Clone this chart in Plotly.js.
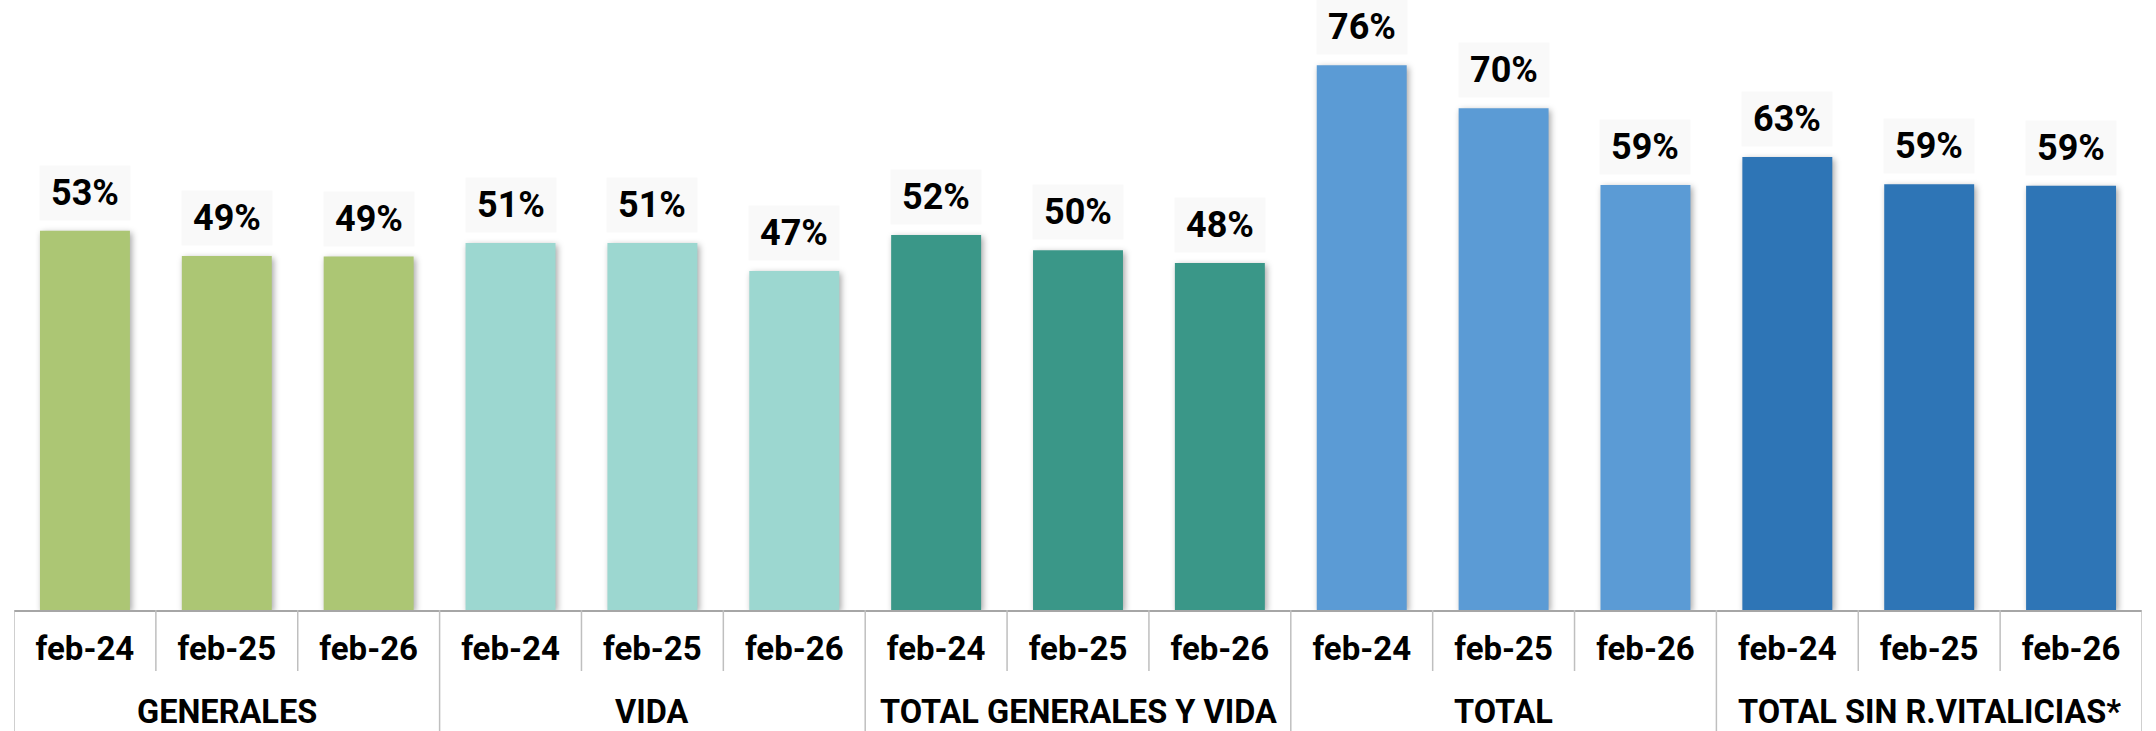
<!DOCTYPE html>
<html>
<head>
<meta charset="utf-8">
<script src="https://cdn.plot.ly/plotly-3.0.1.min.js"></script>
<style>
  body { margin: 0; background: #fff; }
  #chart { width: 2156px; height: 731px; }
  /* soft shadow under the bars */
  .barlayer .point path { filter: drop-shadow(2px 2px 3px rgba(0,0,0,0.35)); }
</style>
</head>
<body>
<div id="chart"></div>
<script>
// groups and periods
const groups = ['GENERALES', 'VIDA', 'TOTAL GENERALES Y VIDA', 'TOTAL', 'TOTAL SIN R.VITALICIAS*'];
const periods = ['feb-24', 'feb-25', 'feb-26'];

// values in %, one array per group (feb-24, feb-25, feb-26)
const generales = [52.9, 49.4, 49.3];
const vida = [51.2, 51.2, 47.3];
const totalGenVida = [52.3, 50.2, 48.4];
const total = [76.0, 70.0, 59.3];
const totalSinRV = [63.2, 59.4, 59.2];

const groupValues = [generales, vida, totalGenVida, total, totalSinRV];
const groupColors = ['#ACC674', '#9CD7D0', '#3A9788', '#5B9BD5', '#2E75B6'];

const fontFam = 'Roboto, Arial, sans-serif';

var traces = [];
var annotations = [];
var shapes = [];
var tickVals = [];
var tickText = [];

groups.forEach(function(g, gi) {
    var xs = periods.map(function(p, pi) { return gi * periods.length + pi; });
    traces.push({
        x: xs,
        y: groupValues[gi],
        type: 'bar',
        name: g,
        marker: { color: groupColors[gi], line: { width: 0 } },
        hoverinfo: 'skip'
    });

    xs.forEach(function(x, pi) {
        tickVals.push(x);
        tickText.push(periods[pi]);
        // value label in a light box above the bar
        annotations.push({
            x: x, y: groupValues[gi][pi],
            xref: 'x', yref: 'y',
            text: '<b>' + Math.round(groupValues[gi][pi]) + '%</b>',
            showarrow: false,
            yanchor: 'bottom',
            yshift: 10,
            width: 90, height: 54,
            borderpad: 0,
            bgcolor: '#F9F9F9',
            font: { family: fontFam, size: 36, color: '#000' }
        });
        // short separator between periods
        if (pi > 0) {
            shapes.push({
                type: 'line', xref: 'x', yref: 'paper',
                x0: x - 0.5, x1: x - 0.5, y0: 0, y1: -61 / 610,
                line: { color: '#BFBFBF', width: 1.5 }
            });
        }
    });

    // group name under the periods
    annotations.push({
        x: gi * periods.length + 1, y: -102 / 610,
        xref: 'x', yref: 'paper',
        text: '<b>' + g + '</b>',
        showarrow: false,
        yanchor: 'middle',
        font: { family: fontFam, size: 32.5, color: '#000' }
    });

    // full height separator at the group start (and end for the last one)
    shapes.push({
        type: 'line', xref: 'x', yref: 'paper',
        x0: gi * periods.length - 0.5, x1: gi * periods.length - 0.5, y0: 0, y1: -121 / 610,
        line: { color: '#BFBFBF', width: 1.5 }
    });
});
shapes.push({
    type: 'line', xref: 'x', yref: 'paper',
    x0: groups.length * periods.length - 0.5, x1: groups.length * periods.length - 0.5, y0: 0, y1: -121 / 610,
    line: { color: '#BFBFBF', width: 1.5 }
});

const layout = {
    width: 2156,
    height: 731,
    margin: { l: 14, r: 14, t: 0, b: 121 },
    paper_bgcolor: '#fff',
    plot_bgcolor: '#fff',
    showlegend: false,
    barmode: 'group',
    bargap: 0.366,
    xaxis: {
        range: [-0.5, groups.length * periods.length - 0.5],
        tickmode: 'array',
        tickvals: tickVals,
        ticktext: tickText.map(function(t) { return '<b>' + t + '</b>'; }),
        tickfont: { family: fontFam, size: 33, color: '#000' },
        ticks: '',
        ticklabelstandoff: 8,
        showgrid: false,
        zeroline: false,
        showline: true,
        linecolor: '#A6A6A6',
        linewidth: 2,
        fixedrange: true
    },
    yaxis: {
        range: [0, 85.1],
        visible: false,
        showgrid: false,
        zeroline: false,
        fixedrange: true
    },
    annotations: annotations,
    shapes: shapes
};

Plotly.newPlot('chart', traces, layout, { displayModeBar: false, staticPlot: true });
</script>
</body>
</html>
